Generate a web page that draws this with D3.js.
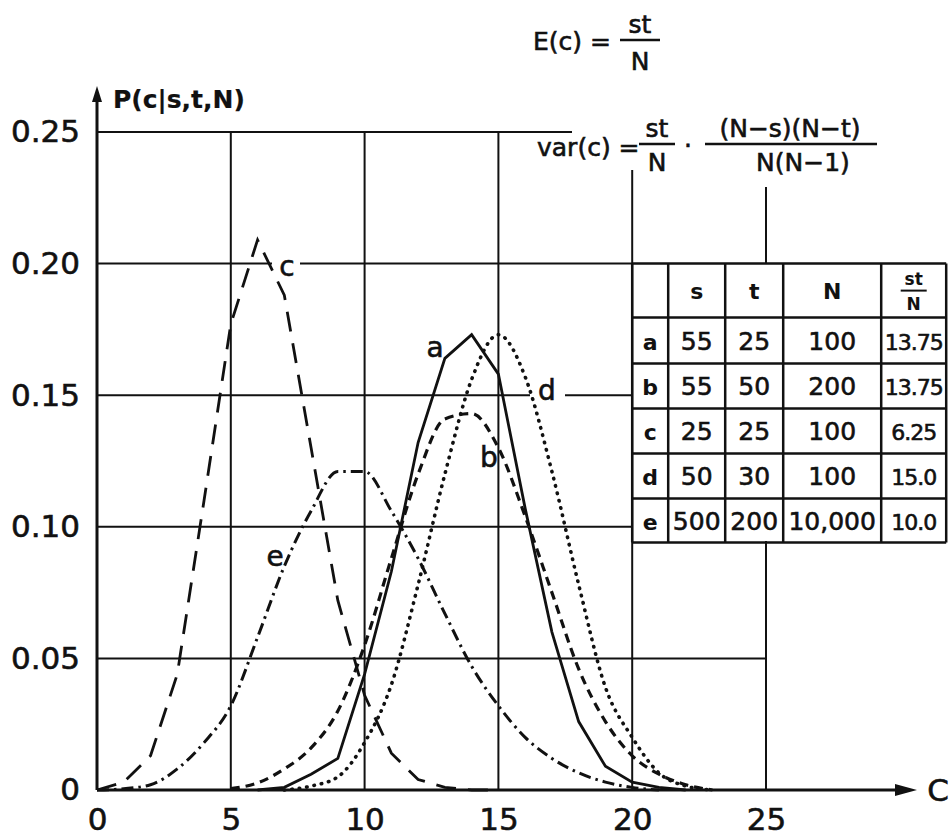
<!DOCTYPE html>
<html>
<head>
<meta charset="utf-8">
<script src="https://cdn.jsdelivr.net/npm/d3@7"></script>
<style>
  body { margin: 0; background: #fff; }
  svg { display: block; font-family: "DejaVu Sans", sans-serif; }
  text { fill: #111; stroke: #111; stroke-width: 0.6px; }
</style>
</head>
<body>
<svg id="chart" width="949" height="836"></svg>
<script>
// P(c | s,t,N), one value per integer c starting at *Start
const aStart = 6;
const aValues = [0, 0.001, 0.006, 0.012, 0.044, 0.083, 0.132, 0.164, 0.173, 0.158, 0.107, 0.060, 0.026, 0.009, 0.003, 0.001, 0];
const bStart = 5;
const bValues = [0.0005, 0.0027, 0.008, 0.016, 0.030, 0.055, 0.088, 0.120, 0.141, 0.143, 0.130, 0.104, 0.075, 0.046, 0.026, 0.013, 0.006, 0.002, 0];
const cStart = 0;
const cValues = [0, 0.003, 0.013, 0.044, 0.110, 0.177, 0.209, 0.188, 0.130, 0.072, 0.036, 0.014, 0.004, 0.001, 0, 0];
const dStart = 7;
const dValues = [0, 0.0015, 0.005, 0.018, 0.040, 0.078, 0.120, 0.156, 0.173, 0.157, 0.121, 0.078, 0.039, 0.020, 0.0065, 0.0015, 0];
const eStart = 0;
const eValues = [0, 0.0005, 0.002, 0.008, 0.018, 0.032, 0.058, 0.085, 0.106, 0.121, 0.121, 0.106, 0.088, 0.067, 0.047, 0.032, 0.020, 0.012, 0.0065, 0.003, 0.001, 0];

const xTicks = [0, 5, 10, 15, 20, 25];
const yTicks = [0, 0.05, 0.10, 0.15, 0.20, 0.25];
const yTickLabels = ["0", "0.05", "0.10", "0.15", "0.20", "0.25"];

// parameter table
const rowNames = ["a", "b", "c", "d", "e"];
const sCol = ["55", "55", "25", "50", "500"];
const tCol = ["25", "50", "25", "30", "200"];
const nCol = ["100", "200", "100", "100", "10,000"];
const meanCol = ["13.75", "13.75", "6.25", "15.0", "10.0"];

const svg = d3.select("#chart");
const x = d3.scaleLinear().domain([0, 25]).range([97, 766]);
const y = d3.scaleLinear().domain([0, 0.25]).range([790, 132]);

// grid lines (each has its own extent in the original drawing)
const hGrid = [
  [0.25, x(0), 572],
  [0.20, x(0), 272], [0.20, 300, x(20)],
  [0.15, x(0), 530], [0.15, 565, x(20)],
  [0.10, x(0), x(20)],
  [0.05, x(0), x(25)]
];
const vGrid = [
  [5, y(0.25), y(0)], [10, y(0.25), y(0)], [15, y(0.25), y(0)],
  [20, 170, y(0)],
  [25, 187, y(0.20)], [25, 541, y(0)]
];
const grid = svg.append("g").attr("stroke", "#111").attr("stroke-width", 2);
grid.selectAll("line.h").data(hGrid).enter().append("line")
  .attr("x1", d => d[1]).attr("x2", d => d[2])
  .attr("y1", d => y(d[0])).attr("y2", d => y(d[0]));
grid.selectAll("line.v").data(vGrid).enter().append("line")
  .attr("x1", d => x(d[0])).attr("x2", d => x(d[0]))
  .attr("y1", d => d[1]).attr("y2", d => d[2]);

// axes with arrows
svg.append("line").attr("x1", x(0)).attr("x2", 900).attr("y1", y(0)).attr("y2", y(0))
  .attr("stroke", "#111").attr("stroke-width", 3);
svg.append("line").attr("x1", x(0)).attr("x2", x(0)).attr("y1", y(0)).attr("y2", 96)
  .attr("stroke", "#111").attr("stroke-width", 3);
svg.append("path").attr("d", `M917,${y(0)} L895,${y(0) - 6} L895,${y(0) + 6} Z`).attr("fill", "#111");
svg.append("path").attr("d", `M${x(0)},86 L${x(0) - 5},102 L${x(0) + 5},102 Z`).attr("fill", "#111");

const xAxis = svg.append("g").attr("transform", `translate(0,${y(0)})`)
  .call(d3.axisBottom(x).tickValues(xTicks).tickSize(0).tickPadding(18));
const yAxis = svg.append("g").attr("transform", `translate(${x(0)},0)`)
  .call(d3.axisLeft(y).tickValues(yTicks).tickSize(0).tickPadding(17)
    .tickFormat((d, i) => yTickLabels[i]));
[xAxis, yAxis].forEach(g => {
  g.select(".domain").remove();
  g.selectAll("text").attr("font-size", 31).attr("font-family", "DejaVu Sans").attr("fill", "#111");
});

svg.append("text").attr("x", 938).attr("y", 801).attr("text-anchor", "middle")
  .attr("font-size", 31).text("C");
svg.append("text").attr("x", 113).attr("y", 108).attr("font-size", 25).attr("font-weight", "bold")
  .style("stroke-width", "0.2px").text("P(c|s,t,N)");

// curves
const curves = [
  { name: "a", start: aStart, values: aValues, dash: null, width: 2.8, curve: d3.curveLinear, lx: 435, ly: 357 },
  { name: "b", start: bStart, values: bValues, dash: "9,6", width: 3.2, curve: d3.curveMonotoneX, lx: 489, ly: 467 },
  { name: "c", start: cStart, values: cValues, dash: "20,12", width: 2.8, curve: d3.curveLinear, lx: 287, ly: 276 },
  { name: "d", start: dStart, values: dValues, dash: "0.5,7", width: 3.6, curve: d3.curveMonotoneX, lx: 547, ly: 400 },
  { name: "e", start: eStart, values: eValues, dash: "12,5,2.5,5", width: 3, curve: d3.curveMonotoneX, lx: 275, ly: 566 }
];
const line = d3.line().x(d => x(d[0])).y(d => y(d[1]));
svg.append("g").selectAll("path").data(curves).enter().append("path")
  .attr("d", s => line.curve(s.curve)(s.values.map((v, i) => [s.start + i, v])))
  .attr("fill", "none").attr("stroke", "#111")
  .attr("stroke-width", s => s.width)
  .attr("stroke-linecap", s => s.name === "d" ? "round" : "butt")
  .attr("stroke-dasharray", s => s.dash);
svg.append("g").selectAll("text").data(curves).enter().append("text")
  .attr("x", s => s.lx).attr("y", s => s.ly).attr("text-anchor", "middle")
  .attr("font-size", 28).text(s => s.name);

// formulas
const fx = svg.append("g").attr("font-size", 25);
fx.append("text").attr("x", 533).attr("y", 50).text("E(c) =");
fx.append("text").attr("x", 640).attr("y", 33).attr("text-anchor", "middle").text("st");
fx.append("text").attr("x", 640).attr("y", 70).attr("text-anchor", "middle").text("N");
fx.append("text").attr("x", 537).attr("y", 156).text("var(c) =");
fx.append("text").attr("x", 657).attr("y", 137).attr("text-anchor", "middle").text("st");
fx.append("text").attr("x", 657).attr("y", 171).attr("text-anchor", "middle").text("N");
fx.append("text").attr("x", 688).attr("y", 154).attr("text-anchor", "middle").text("·");
fx.append("text").attr("x", 790).attr("y", 137).attr("text-anchor", "middle").text("(N\u2212s)(N\u2212t)");
fx.append("text").attr("x", 803).attr("y", 171).attr("text-anchor", "middle").text("N(N\u22121)");
const bars = [[620, 660, 40], [639, 675, 144], [705, 877, 144]];
fx.selectAll("line").data(bars).enter().append("line")
  .attr("x1", d => d[0]).attr("x2", d => d[1]).attr("y1", d => d[2]).attr("y2", d => d[2])
  .attr("stroke", "#111").attr("stroke-width", 2.5);

// table
const colW = [36, 57, 58, 98, 65];
const rowH = [54, 46, 45, 45, 45, 44];
const tx0 = x(20), ty0 = y(0.20);
const colX = [tx0]; colW.forEach(w => colX.push(colX[colX.length - 1] + w));
const rowY = [ty0]; rowH.forEach(h => rowY.push(rowY[rowY.length - 1] + h));
const tbl = svg.append("g");
tbl.selectAll("line.col").data(colX).enter().append("line")
  .attr("x1", d => d).attr("x2", d => d).attr("y1", rowY[0]).attr("y2", rowY[rowY.length - 1])
  .attr("stroke", "#111").attr("stroke-width", 2.5);
tbl.selectAll("line.row").data(rowY).enter().append("line")
  .attr("x1", colX[0]).attr("x2", colX[colX.length - 1]).attr("y1", d => d).attr("y2", d => d)
  .attr("stroke", "#111").attr("stroke-width", 2.5);
const cx = i => (colX[i] + colX[i + 1]) / 2;
const cy = j => (rowY[j] + rowY[j + 1]) / 2;
const header = ["s", "t", "N"];
header.forEach((h, i) => {
  tbl.append("text").attr("x", cx(i + 1)).attr("y", cy(0) + 8).attr("text-anchor", "middle")
    .attr("font-size", 22).attr("font-weight", "bold").style("stroke-width", "0px").text(h);
});
tbl.append("text").attr("x", cx(4)).attr("y", cy(0) - 6).attr("text-anchor", "middle")
  .attr("font-size", 17).attr("font-weight", "bold").style("stroke-width", "0px").text("st");
tbl.append("line").attr("x1", cx(4) - 13).attr("x2", cx(4) + 13).attr("y1", cy(0)).attr("y2", cy(0))
  .attr("stroke", "#111").attr("stroke-width", 2);
tbl.append("text").attr("x", cx(4)).attr("y", cy(0) + 19).attr("text-anchor", "middle")
  .attr("font-size", 17).attr("font-weight", "bold").style("stroke-width", "0px").text("N");
const cols = [rowNames, sCol, tCol, nCol, meanCol];
cols.forEach((col, i) => {
  tbl.selectAll(null).data(col).enter().append("text")
    .attr("x", cx(i)).attr("y", (d, j) => cy(j + 1) + 9).attr("text-anchor", "middle")
    .attr("font-size", i === 0 ? 22 : (i === 4 ? 22 : 25))
    .attr("font-weight", i === 0 ? "bold" : "normal")
    .style("stroke-width", i === 0 ? "0px" : null)
    .attr("letter-spacing", i === 4 ? -1 : 0)
    .text(d => d);
});
</script>
</body>
</html>
